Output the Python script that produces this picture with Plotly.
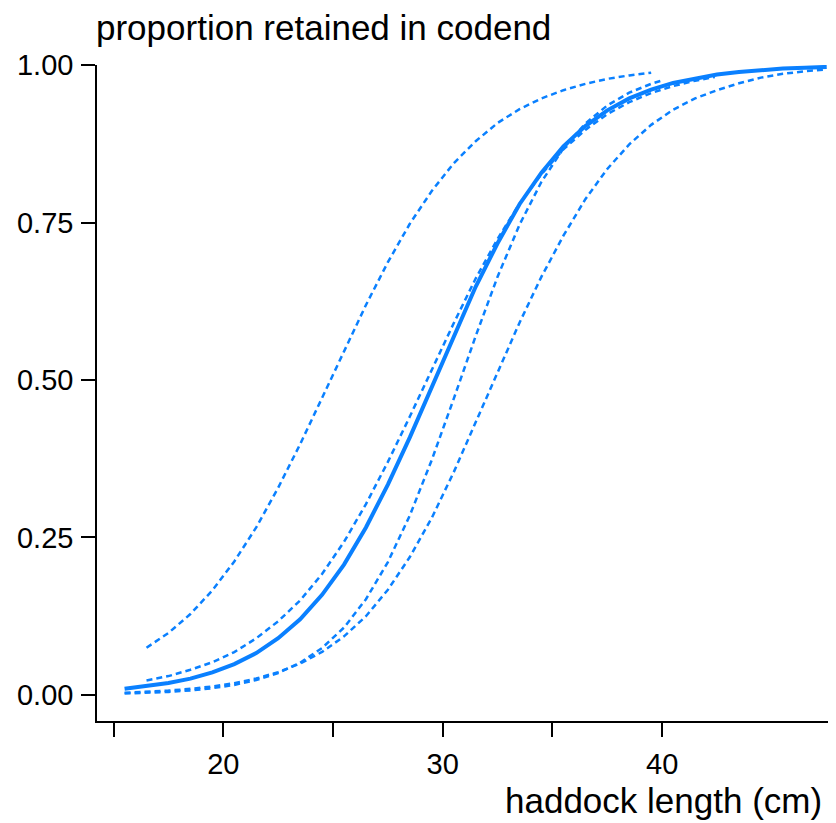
import plotly.graph_objects as go

# Fitted (mean) selection curve
len_mean = [15.5, 16.5, 17.5, 18.5, 19.5, 20.5, 21.5, 22.5, 23.5, 24.5, 25.5, 26.5, 27.5, 28.5,
            29.5, 30.5, 31.5, 32.5, 33.5, 34.5, 35.5, 36.5, 37.5, 38.5, 39.5, 40.5, 41.5, 42.5,
            43.5, 44.5, 45.5, 46.5, 47.5]
p_mean = [0.010, 0.0138, 0.019, 0.026, 0.036, 0.049, 0.0665, 0.090, 0.120, 0.159, 0.207, 0.266,
          0.334, 0.409, 0.490, 0.570, 0.648, 0.717, 0.779, 0.829, 0.871, 0.903, 0.928, 0.947,
          0.961, 0.9715, 0.979, 0.985, 0.989, 0.992, 0.9943, 0.9958, 0.997]

# Individual haul curves (dashed)
len_a = [16.5, 17.5, 18.5, 19.5, 20.5, 21.5, 22.5, 23.5, 24.5, 25.5, 26.5, 27.5, 28.5, 29.5,
         30.5, 31.5, 32.5, 33.5, 34.5, 35.5, 36.5, 37.5, 38.5, 39.5]
p_a = [0.075, 0.0985, 0.1285, 0.166, 0.212, 0.266, 0.329, 0.398, 0.4715, 0.546, 0.619, 0.687,
       0.748, 0.800, 0.844, 0.879, 0.908, 0.930, 0.947, 0.960, 0.970, 0.978, 0.9835, 0.9877]

len_b = [16.5, 17.5, 18.5, 19.5, 20.5, 21.5, 22.5, 23.5, 24.5, 25.5, 26.5, 27.5, 28.5, 29.5,
         30.5, 31.5, 32.5, 33.5, 34.5, 35.5, 36.5, 37.5, 38.5, 39.5, 40.5, 41.5, 42.4]
p_b = [0.023, 0.030, 0.040, 0.052, 0.068, 0.090, 0.117, 0.150, 0.192, 0.243, 0.303, 0.370,
       0.442, 0.516, 0.590, 0.661, 0.724, 0.780, 0.827, 0.866, 0.897, 0.922, 0.941, 0.9555,
       0.9666, 0.975, 0.981]

len_c = [15.5, 16.5, 17.5, 18.5, 19.5, 20.5, 21.5, 22.5, 23.5, 24.5, 25.5, 26.5, 27.5, 28.5,
         29.5, 30.5, 31.5, 32.5, 33.5, 34.5, 35.5, 36.5, 37.5, 38.5, 39.5, 40.0]
p_c = [0.0022, 0.0033, 0.0049, 0.0072, 0.0108, 0.016, 0.0237, 0.0349, 0.0512, 0.0745, 0.107,
       0.152, 0.211, 0.285, 0.373, 0.470, 0.5695, 0.664, 0.7465, 0.8146, 0.8676, 0.9072, 0.9358,
       0.9561, 0.9701, 0.9754]

len_d = [15.5, 16.5, 17.5, 18.5, 19.5, 20.5, 21.5, 22.5, 23.5, 24.5, 25.5, 26.5, 27.5, 28.5,
         29.5, 30.5, 31.5, 32.5, 33.5, 34.5, 35.5, 36.5, 37.5, 38.5, 39.5, 40.5, 41.5, 42.5,
         43.5, 44.5, 45.5, 46.5, 47.5]
p_d = [0.0036, 0.005, 0.007, 0.0097, 0.0135, 0.0188, 0.0261, 0.0362, 0.0498, 0.0683, 0.093,
       0.125, 0.167, 0.219, 0.281, 0.3536, 0.4334, 0.513, 0.591, 0.664, 0.729, 0.787, 0.835,
       0.874, 0.905, 0.929, 0.947, 0.960, 0.971, 0.980, 0.986, 0.990, 0.993]

x_ticks = [15, 20, 25, 30, 35, 40]
x_tick_text = ["", "20", "", "30", "", "40"]
y_ticks = [0, 0.25, 0.5, 0.75, 1.0]
y_tick_text = ["0.00", "0.25", "0.50", "0.75", "1.00"]

BLUE = "#0a80ff"
FONT = "Liberation Sans, Arial, sans-serif"

fig = go.Figure()
for xs, ys in [(len_a, p_a), (len_b, p_b), (len_c, p_c), (len_d, p_d)]:
    fig.add_trace(go.Scatter(x=xs, y=ys, mode="lines",
                             line=dict(color=BLUE, width=2.5, dash="6px,4px"),
                             showlegend=False, hoverinfo="skip"))
fig.add_trace(go.Scatter(x=len_mean, y=p_mean, mode="lines",
                         line=dict(color=BLUE, width=4),
                         showlegend=False))

# The page body adds an 8px offset, so the figure is 8px smaller than the window
fig.update_layout(
    width=828, height=815,
    margin=dict(l=89, r=6, t=57, b=102, pad=0),
    plot_bgcolor="white", paper_bgcolor="white",
    font=dict(family=FONT, color="black"),
    xaxis=dict(range=[14.243, 47.65], tickvals=x_ticks, ticktext=x_tick_text,
               showgrid=False, zeroline=False, showline=True, linecolor="black",
               linewidth=1.5, ticks="outside", ticklen=14, tickwidth=1.5,
               tickcolor="black", tickfont=dict(size=29, family=FONT),
               ticklabelstandoff=2, automargin=False),
    yaxis=dict(range=[-0.0413, 1.0], tickvals=y_ticks, ticktext=y_tick_text,
               showgrid=False, zeroline=False, showline=True, linecolor="black",
               linewidth=1.5, ticks="outside", ticklen=14, tickwidth=1.5,
               tickcolor="black", tickfont=dict(size=29, family=FONT),
               ticklabelstandoff=2, automargin=False),
    annotations=[
        dict(text="proportion retained in codend", xref="paper", yref="paper",
             x=-0.004, y=1.057, xanchor="left", yanchor="middle", showarrow=False,
             font=dict(size=35, family=FONT, color="black")),
        dict(text="haddock length (cm)", xref="paper", yref="paper",
             x=0.992, y=-0.1215, xanchor="right", yanchor="middle", showarrow=False,
             font=dict(size=35, family=FONT, color="black")),
    ],
)

fig.write_html("out.html")
